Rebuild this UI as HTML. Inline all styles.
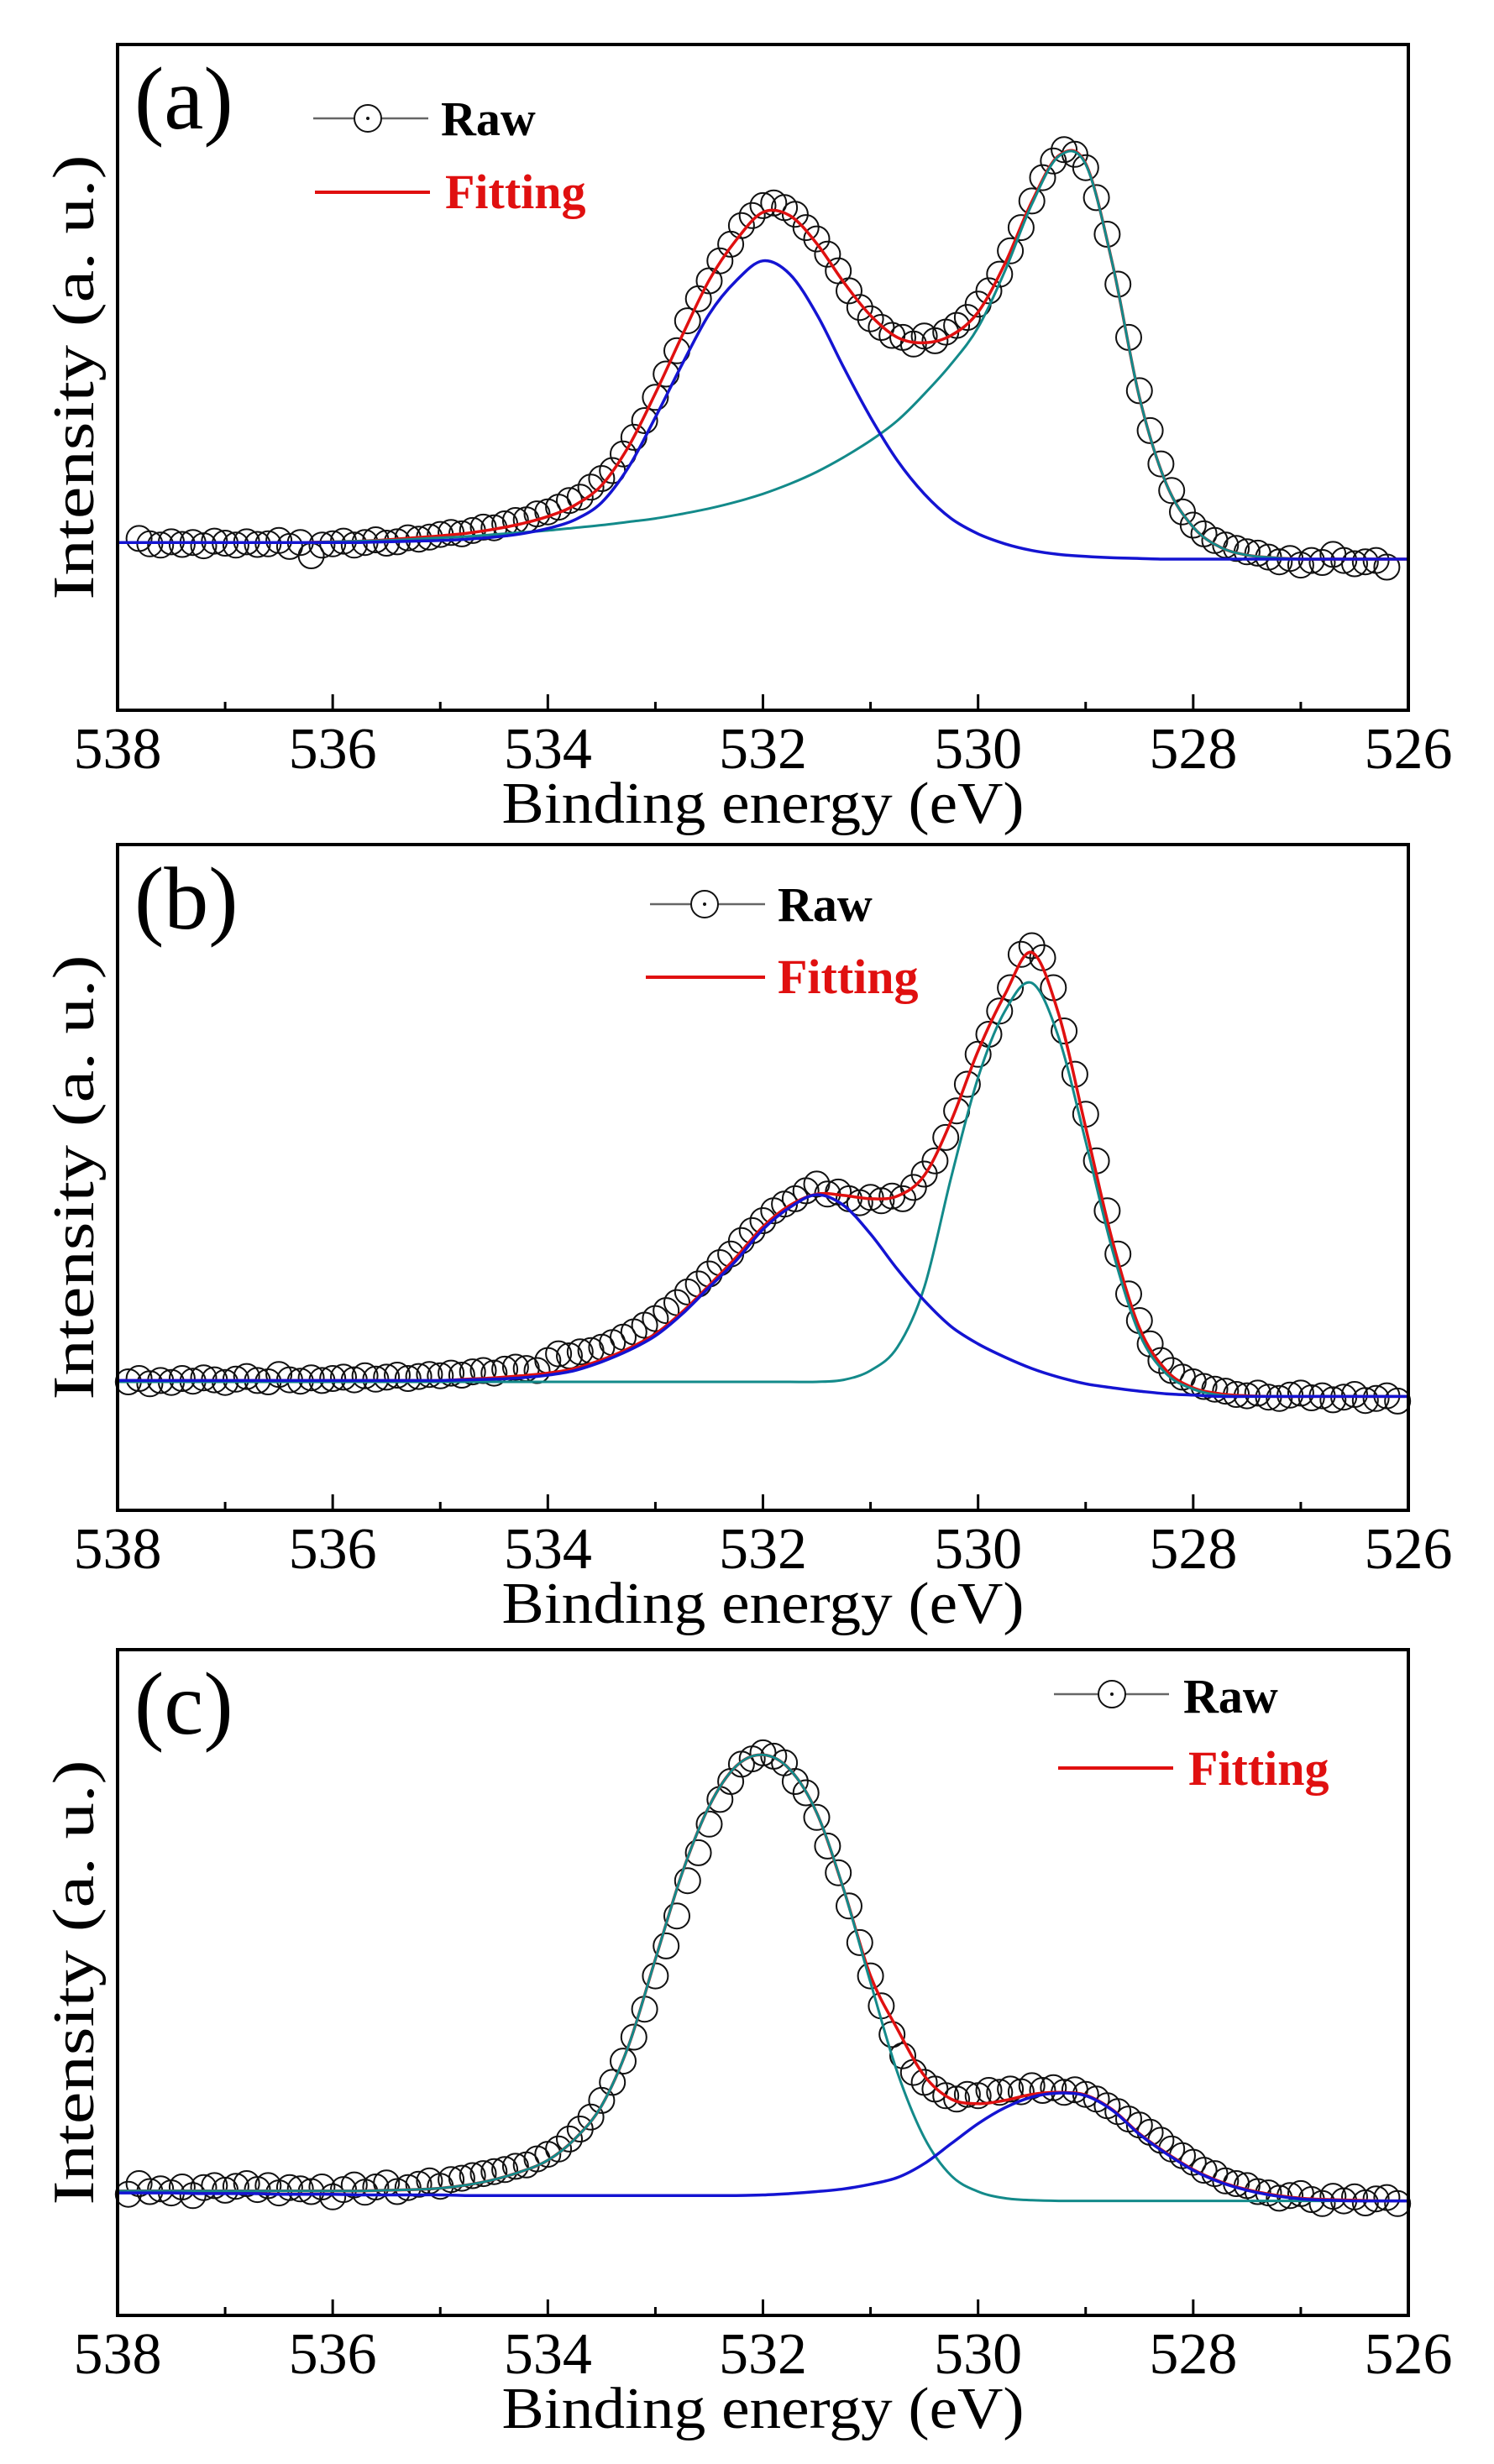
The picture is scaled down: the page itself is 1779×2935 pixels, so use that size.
<!DOCTYPE html>
<html><head><meta charset="utf-8"><title>XPS O 1s spectra</title>
<style>
html,body{margin:0;padding:0;background:#fff;}
svg{display:block;}
text{font-family:"Liberation Serif","Times New Roman",serif;fill:#000;}
</style></head>
<body>
<svg id="fig" xmlns="http://www.w3.org/2000/svg" width="1779" height="2935" viewBox="0 0 1779 2935"></svg>
<script>
// ---------- data (intensity in % of panel height, energies in eV) ----------
const xTicks = [538, 536, 534, 532, 530, 528, 526];
const minorTicks = [537, 535, 533, 531, 529, 527];
const panelLetters = ["(a)", "(b)", "(c)"];
const gridStart = 538, gridStep = 0.25;

const fitA = [25.2,25.2,25.2,25.2,25.2,25.2,25.2,25.2,25.3,25.4,25.6,25.9,26.2,26.6,27.2,28.0,29.1,30.8,33.8,39.6,47.6,56.3,64.6,70.6,74.8,74.3,70.1,64.3,59.3,56,55.2,56.3,59.8,67.1,76.4,83.3,82.1,67,47,34,27.5,24.5,23.3,22.9,22.7,22.7,22.7,22.7,22.7];
const blueA = [25.2,25.2,25.2,25.2,25.2,25.2,25.2,25.2,25.2,25.2,25.3,25.4,25.5,25.7,26.0,26.5,27.3,28.6,31.2,36.5,44,52,59.5,64.5,67.5,65.5,59.5,51.5,44,37.5,32.5,28.8,26.5,25,24,23.4,23.1,22.9,22.8,22.7,22.7,22.7,22.7,22.7,22.7,22.7,22.7,22.7,22.7];
const tealA = [25.2,25.2,25.2,25.2,25.2,25.2,25.2,25.2,25.3,25.4,25.5,25.7,25.9,26.1,26.4,26.7,27.0,27.4,27.8,28.3,28.8,29.5,30.3,31.3,32.5,34,35.8,38,40.5,43.5,47.5,52,57.5,66,76,83.2,82,67,47,34,27.5,24.5,23.3,22.9,22.7,22.7,22.7,22.7,22.7];
const rawStartA = 537.8;
const rawA = [25.8,25.0,24.8,25.3,24.9,25.2,24.7,25.4,25.1,24.8,25.3,24.9,25.0,25.5,24.6,25.2,23.2,24.8,25.0,25.4,24.8,25.2,25.6,25.1,25.3,25.9,25.7,26.0,26.4,26.7,26.5,27.0,27.5,27.4,28.0,28.5,28.6,29.5,29.8,30.5,31.5,32.0,33.5,34.8,36.0,38.5,41.0,43.5,47.0,50.5,54.0,58.5,61.8,64.5,67.5,70.0,72.8,74.3,75.8,76.2,75.5,74.5,72.5,70.8,68.5,66.0,63.0,60.5,58.8,57.5,56.3,56.0,55.0,56.2,55.5,56.8,57.8,59.0,61.0,63.0,65.5,69.0,72.5,76.5,80.0,82.5,84.2,83.5,81.5,77.0,71.5,64.0,56.0,48.0,42.0,37.0,33.0,29.8,27.8,26.5,25.5,24.8,24.3,23.8,23.6,23.0,22.3,22.8,21.8,22.5,22.2,23.4,22.5,22.0,22.3,22.5,21.5];

const fitB = [19.5,19.5,19.5,19.5,19.5,19.5,19.5,19.5,19.5,19.5,19.5,19.5,19.5,19.7,19.9,20.2,20.6,21.3,22.6,24.3,26.5,29.8,33.8,38,42.6,45.8,47.5,47.3,46.8,47.2,50.3,58.5,69,77.5,83.8,74.5,57.5,40.4,27.4,21,18.4,17.5,17.2,17.1,17.1,17.1,17.1,17.1,17.1];
const blueB = [19.5,19.5,19.5,19.5,19.5,19.5,19.5,19.5,19.5,19.5,19.5,19.5,19.5,19.6,19.7,19.9,20.3,21.0,22.3,24.0,26.2,29.5,33.5,37.5,42.2,45.5,47.4,45.8,41.5,36.2,31.5,27.6,25.0,23.0,21.3,20.0,19.0,18.4,17.9,17.5,17.3,17.1,17.1,17.1,17.1,17.1,17.1,17.1,17.1];
const tealB = [19.3,19.3,19.3,19.3,19.3,19.3,19.3,19.3,19.3,19.3,19.3,19.3,19.3,19.3,19.3,19.3,19.3,19.3,19.3,19.3,19.3,19.3,19.3,19.3,19.3,19.3,19.3,19.6,21.0,24.5,33.5,50,65,75,79.2,71,55.4,39,26.5,20.5,18.2,17.3,17.1,17.1,17.1,17.1,17.1,17.1,17.1];
const rawStartB = 537.9;
const rawB = [19.3,19.8,19.0,19.5,19.2,19.8,19.4,19.9,19.6,19.2,19.7,20.1,19.5,19.3,20.4,19.6,19.4,19.9,19.5,19.8,20.0,19.6,20.2,19.7,20.0,20.3,19.8,20.1,20.4,20.2,20.6,20.3,20.8,21.0,20.6,21.2,21.5,21.3,21.0,22.5,23.5,23.2,23.8,24.0,24.5,25.2,26.0,26.8,27.8,28.8,30.0,31.2,32.8,34.0,35.5,37.2,38.5,40.5,42.0,43.5,45.0,46.0,46.8,48.0,49.0,47.5,47.8,46.8,46.2,47.0,46.5,47.2,46.8,48.5,50.5,52.5,56.0,60.0,64.0,68.5,71.5,75.0,78.5,83.5,84.8,83.0,78.5,72.0,65.5,59.5,52.5,45.0,38.5,32.5,28.5,25.0,22.5,21.0,20.0,19.3,18.6,18.2,17.9,17.4,17.2,17.6,17.0,16.8,17.3,17.6,16.9,17.2,16.6,17.0,17.4,16.5,16.8,17.2,16.4];

const fitC = [18.7,18.7,18.7,18.7,18.7,18.7,18.7,18.7,18.7,18.7,18.8,18.9,19.1,19.6,20.4,21.6,23.3,26.5,31.5,40.5,53.5,66.5,76.5,82.5,84.2,82,75.5,64,51,43,36,32.5,31.8,32.3,33.2,33.5,33.1,30.9,27.3,24.4,21.9,20.1,18.9,18.1,17.6,17.4,17.3,17.2,17.2];
const blueC = [18.4,18.4,18.4,18.3,18.3,18.3,18.2,18.2,18.2,18.1,18.1,18.1,18.1,18.0,18.0,18.0,18.0,18.0,18.0,18.0,18.0,18.0,18.0,18.0,18.1,18.3,18.6,19.0,19.7,20.7,22.8,25.8,28.8,31.2,32.8,33.4,33.0,30.8,27.2,24.3,21.8,20.0,18.8,18.0,17.5,17.3,17.2,17.2,17.2];
const tealC = [18.7,18.7,18.7,18.7,18.7,18.7,18.7,18.7,18.7,18.7,18.8,18.9,19.1,19.6,20.4,21.6,23.3,26.5,31.5,40.5,53.5,66.5,76.5,82.5,84.2,82,75.5,64,50,36.5,26.7,21,18.6,17.6,17.3,17.2,17.2,17.2,17.2,17.2,17.2,17.2,17.2,17.2,17.2,17.2,17.2,17.2,17.2];
const rawStartC = 537.9;
const rawC = [18.2,19.8,18.6,19.0,18.4,19.3,18.0,19.2,19.5,18.8,19.4,19.8,18.9,19.5,18.4,19.2,19.0,18.6,19.3,17.8,18.9,19.6,18.5,19.3,19.9,18.6,19.2,19.7,20.2,19.4,20.4,20.6,21.0,21.3,21.6,21.9,22.4,22.6,23.5,24.2,25.0,26.5,28.0,29.8,32.3,35.0,38.2,41.8,46.0,51.0,55.5,60.0,65.3,69.5,73.8,77.5,80.2,82.8,83.6,84.5,84.0,83.0,80.2,78.5,74.8,70.5,66.5,61.5,56.0,51.0,46.5,42.2,39.0,36.5,35.0,34.0,33.0,32.5,33.2,33.0,33.8,33.5,34.0,33.6,34.5,33.8,34.2,33.5,33.9,33.2,32.5,31.5,30.6,29.5,28.6,27.5,26.3,25.0,24.0,23.0,21.8,21.3,20.2,19.8,19.5,18.6,18.4,17.6,18.0,18.3,17.4,16.8,17.9,17.2,17.8,16.9,17.5,17.7,16.8];

// ---------- layout ----------
const NS = "http://www.w3.org/2000/svg";
const svg = document.getElementById("fig");
const L = 140, R = 1677, H = 793;
const FONT = '"Liberation Serif", "Times New Roman", serif';
const tops = [53, 1006, 1965];
const legends = [
  {lx1:373, lx2:510, cx:438, ry:141, rtx:525, rty:161, fy:229, fx1:375, fx2:512, ftx:530, fty:248},
  {lx1:774, lx2:911, cx:839, ry:1077, rtx:926, rty:1097, fy:1164, fx1:769, fx2:911, ftx:926, fty:1183},
  {lx1:1255, lx2:1392, cx:1324, ry:2018, rtx:1409, rty:2040, fy:2106, fx1:1260, fx2:1397, ftx:1415, fty:2126}
];
const panels = [
  {fit:fitA, blue:blueA, teal:tealA, raw:rawA, rawStart:rawStartA},
  {fit:fitB, blue:blueB, teal:tealB, raw:rawB, rawStart:rawStartB},
  {fit:fitC, blue:blueC, teal:tealC, raw:rawC, rawStart:rawStartC}
];

function xScale(e){ return L + (gridStart - e) * (R - L) / 12; }
function mk(tag, attrs, parent){
  const el = document.createElementNS(NS, tag);
  for (const k in attrs) el.setAttribute(k, attrs[k]);
  if (tag === "text") el.setAttribute("font-family", FONT);
  (parent || svg).appendChild(el);
  return el;
}
function smoothPath(pts){
  let d = "M" + pts[0][0].toFixed(1) + "," + pts[0][1].toFixed(1);
  for (let i = 0; i < pts.length - 1; i++){
    const p0 = pts[Math.max(0, i-1)], p1 = pts[i], p2 = pts[i+1], p3 = pts[Math.min(pts.length-1, i+2)];
    const c1x = p1[0] + (p2[0]-p0[0])/6, c1y = p1[1] + (p2[1]-p0[1])/6;
    const c2x = p2[0] - (p3[0]-p1[0])/6, c2y = p2[1] - (p3[1]-p1[1])/6;
    d += " C" + c1x.toFixed(1) + "," + c1y.toFixed(1) + " " + c2x.toFixed(1) + "," + c2y.toFixed(1) + " " + p2[0].toFixed(1) + "," + p2[1].toFixed(1);
  }
  return d;
}

panels.forEach((p, k) => {
  const top = tops[k], bot = top + H;
  const yScale = v => bot - v / 100 * H;
  const g = mk("g", {});
  
  

  // raw points
  const rg = mk("g", {fill:"none", stroke:"#111", "stroke-width":"2"}, g);
  
  
  p.raw.forEach((v, i) => {
    const c = mk("circle", {cx: xScale(p.rawStart - 0.1*i).toFixed(1), cy: yScale(v).toFixed(1), r: 15}, rg);
    
    
  });

  const curve = (arr, color, w, name) => {
    const pts = arr.map((v, i) => [xScale(gridStart - gridStep*i), yScale(v)]);
    const path = mk("path", {d: smoothPath(pts), fill:"none", stroke:color, "stroke-width":w, "stroke-linejoin":"round"}, g);
    
    
  };
  curve(p.fit, "#e01010", 3.5, "fitting-curve");
  curve(p.teal, "#138a8a", 3, "component-teal");
  curve(p.blue, "#1414d2", 3.5, "component-blue");

  // frame
  const fr = mk("rect", {x:L, y:top, width:R-L, height:H, fill:"none", stroke:"#000", "stroke-width":4}, g);
  
  

  // ticks
  xTicks.forEach(t => {
    const x = xScale(t);
    const tl = mk("line", {x1:x, x2:x, y1:bot, y2:bot-19, stroke:"#000", "stroke-width":3}, g);
    
    
    const tx = mk("text", {x:x, y:bot+69, "font-size":70, "text-anchor":"middle"}, g);
    tx.textContent = t;
    
    
  });
  minorTicks.forEach(t => {
    const x = xScale(t);
    const tl = mk("line", {x1:x, x2:x, y1:bot, y2:bot-10, stroke:"#000", "stroke-width":3}, g);
    
    
  });

  // axis titles
  const xt = mk("text", {x:(L+R)/2, y:bot+134, "font-size":70, "text-anchor":"middle", textLength:622, lengthAdjust:"spacingAndGlyphs"}, g);
  xt.textContent = "Binding energy (eV)";
  
  
  const yc = top + H/2;
  const yt = mk("text", {x:0, y:0, "font-size":70, "text-anchor":"middle", textLength:530, lengthAdjust:"spacingAndGlyphs", transform:"translate(111," + yc + ") rotate(-90)"}, g);
  yt.textContent = "Intensity (a. u.)";
  
  

  // panel label
  const pl = mk("text", {x:160, y:top+100, "font-size":106}, g);
  pl.textContent = panelLetters[k];
  
  

  // legend
  const lg = legends[k];
  const leg = mk("g", {}, g);
  
  
  const rl = mk("line", {x1:lg.lx1, x2:lg.lx2, y1:lg.ry, y2:lg.ry, stroke:"#666", "stroke-width":2.5}, leg);
  
  
  const rc = mk("circle", {cx:lg.cx, cy:lg.ry, r:16, fill:"#fff", stroke:"#111", "stroke-width":2}, leg);
  
  
  const rd = mk("circle", {cx:lg.cx, cy:lg.ry, r:2, fill:"#111"}, leg);
  
  
  const rt = mk("text", {x:lg.rtx, y:lg.rty, "font-size":58, "font-weight":"bold"}, leg);
  rt.textContent = "Raw";
  
  
  const fl = mk("line", {x1:lg.fx1, x2:lg.fx2, y1:lg.fy, y2:lg.fy, stroke:"#e01010", "stroke-width":4}, leg);
  
  
  const ft = mk("text", {x:lg.ftx, y:lg.fty, "font-size":58, "font-weight":"bold"}, leg);
  ft.style.fill = "#e01010";
  ft.textContent = "Fitting";
  
  
});
</script>
</body></html>
